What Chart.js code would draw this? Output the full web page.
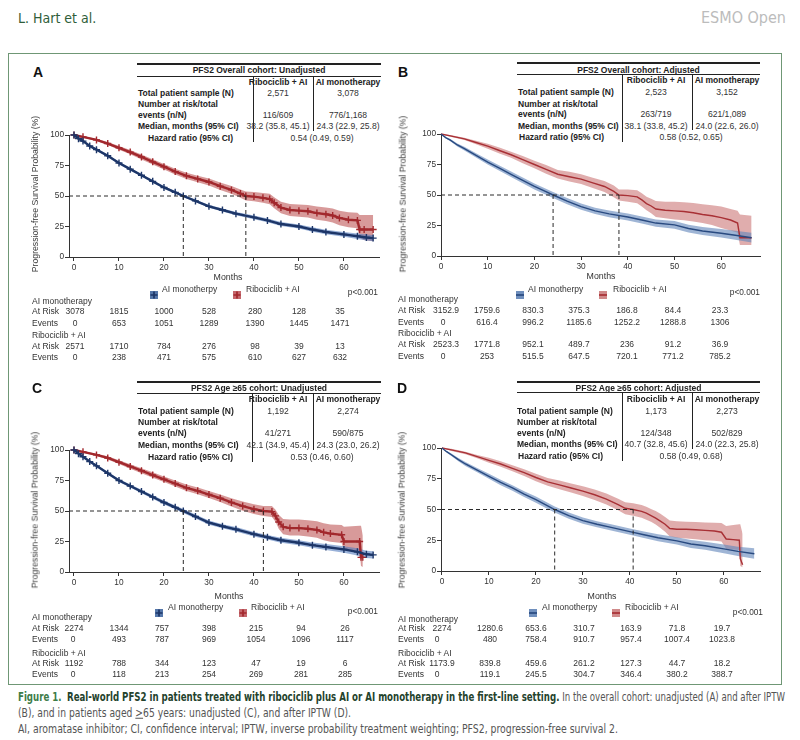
<!DOCTYPE html>
<html><head><meta charset="utf-8">
<script src="https://cdn.jsdelivr.net/npm/chart.js@4.4.1/dist/chart.umd.min.js"></script>
<style>
body{margin:0;background:#fff;width:800px;height:740px;position:relative;overflow:hidden;font-family:"Liberation Sans",Arial,sans-serif;}
.t{position:absolute;white-space:nowrap;line-height:1;}
.ln{position:absolute;background:#222;}
</style></head><body>
<script>
// ---------- DATA ----------
const XTICKS = [0,10,20,30,40,50,60];
const YTICKS = [0,25,50,75,100];
const SERIES_NAMES = ["AI monotherpy", "Ribociclib + AI"];
const TABLE_ROW_LABELS = ["Total patient sample (N)", "Number at risk/total", "events (n/N)", "Median, months (95% CI)", "Hazard ratio (95% CI)"];
const TABLE_COLS = ["Ribociclib + AI", "AI monotherapy"];

// Panel A
const A_TITLE = "PFS2 Overall cohort: Unadjusted";
const A_RIBO_STATS = ["2,571", "116/609", "38.2 (35.8, 45.1)"];
const A_AI_STATS = ["3,078", "776/1,168", "24.3 (22.9, 25.8)"];
const A_HR = "0.54 (0.49, 0.59)";
const A_MEDIANS = [24.3, 38.2];
const A_AI_m  = [0,1,2,3.5,5,7.5,10,12.5,15,17.5,20,22.5,24.3,27,30,33,36,40,43,46,50,53,56,60,63,65,66.5];
const A_AI_s  = [100,97,95,91,88,83,77,72,67,62,57,53,50,46,41.5,38.5,35.5,32.5,30,27,25,22.5,20.5,18.5,17,16,15.5];
const A_AI_lo = [100,96.5,94.3,90.2,87.1,82,76,71,66,61,56,52,49,45,40.3,37.2,34.2,31,28.4,25.4,23.3,20.7,18.6,16.5,14.8,13.5,13];
const A_AI_hi = [100,97.5,95.7,91.8,88.9,84,78,73,68,63,58,54,51,47,42.7,39.8,36.8,34,31.6,28.6,26.7,24.3,22.4,20.5,19.2,18.5,18];
const A_RA_m  = [0,2,5,7.5,10,12.5,15,17.5,20,22.5,25,27.5,30,32.5,35,37,38.2,40,42,43.5,44.5,46,48,50,52,54,56,57.5,59,61,63,63.5,64.5,66.5];
const A_RA_s  = [100,98.5,96,93,89.5,86,82,78,74,70,66.5,64,61.5,58,55,52,50,49.5,48.5,47.5,44.5,40.5,38.5,38,37.5,36,35,34,32,30.5,30,22.5,22.5,22.5];
const A_RA_lo = [100,97.8,95,91.8,88,84.2,80,75.8,71.8,67.6,64,61.3,58.7,55,51.8,48.6,46.4,45.7,44.5,43.2,40,35.8,33.6,33,32.3,30.6,29.5,28.2,26,24.4,23.5,15.5,14,13];
const A_RA_hi = [100,99.2,97,94.2,91,87.8,84,80.2,76.2,72.4,69,66.7,64.3,61,58.2,55.4,53.6,53.3,52.5,51.8,49,45.2,43.4,43,42.7,41.4,40.5,39.8,38,36.6,36.2,34.5,34.5,34.5];

// Panel B
const B_TITLE = "PFS2 Overall cohort: Adjusted";
const B_RIBO_STATS = ["2,523", "263/719", "38.1 (33.8, 45.2)"];
const B_AI_STATS = ["3,152", "621/1,089", "24.0 (22.6, 26.0)"];
const B_HR = "0.58 (0.52, 0.65)";
const B_MEDIANS = [24.0, 38.1];
const B_AI_m  = [0,1,2,3.5,5,7.5,10,12.5,15,17.5,20,22,24,27,30,33,36,40,43,46,50,53,56,60,63,66.5];
const B_AI_s  = [100,97,95,91,88,82.5,77,72,67,62,57,53.5,50,45,40.5,37,34.5,32,29.5,27,25.5,22.5,20.5,18.6,17,15];
const B_AI_lo = [100,96.5,94,89.8,86.5,80.7,75,69.8,64.7,59.6,54.6,51,47.5,42.5,38,34.4,31.8,29.2,26.6,24,22.4,19.3,17.2,15.1,13.3,11];
const B_AI_hi = [100,97.5,96,92.2,89.5,84.3,79,74.2,69.3,64.4,59.4,56,52.5,47.5,43,39.6,37.2,34.8,32.4,30,28.6,25.7,23.8,22.1,20.7,19];
const B_RA_m  = [0,2,5,7.5,10,12.5,15,17.5,20,22.5,25,27.5,30,32.5,35,37,38.1,40,42,43,44,45,46,48,50,52,54,56,58,60,62,63.5,64,66.5];
const B_RA_s  = [100,98.5,96,93,90,86.5,83,79,75,71,67,65,63,60,57,53,50,49.5,48.5,46,43,41,38.5,37.5,37,36.5,35.5,34,33,31.5,29.5,27,15,15];
const B_RA_lo = [100,97.8,95,91.5,88,84,80.5,76,72,67.5,63.5,61,59,55.8,52.5,48.2,45.5,44.5,43.2,40.5,37.5,35,32,31,30,29.3,28.3,27,25.5,23,21,19,9,9];
const B_RA_hi = [100,99.2,97,94.5,92,89,85.5,82,78,74.5,70.5,69,67,64.2,61.5,57.8,54.5,54.5,53.8,51.5,48.5,47,45,44.5,44.5,44,43.5,42.5,41.5,40.5,38.5,37,34,33];

// Panel C
const C_TITLE = "PFS2 Age \u226565 cohort: Unadjusted";
const C_RIBO_STATS = ["1,192", "41/271", "42.1 (34.9, 45.4)"];
const C_AI_STATS = ["2,274", "590/875", "24.3 (23.0, 26.2)"];
const C_HR = "0.53 (0.46, 0.60)";
const C_MEDIANS = [24.3, 42.1];
const C_AI_m  = [0,1,2,3.5,5,7.5,10,12.5,15,17.5,20,22.5,24.3,27,30,33,36,40,43,46,50,53,56,60,63,65,66.5];
const C_AI_s  = [100,97,94.5,90.5,87,81,75,70.5,66,61.5,57,53,50,45.5,40.5,37.5,35,31,28.5,26,24,22,20.5,18.5,16.5,14.5,14];
const C_AI_lo = [100,96.4,93.7,89.6,86,79.9,73.8,69.2,64.6,60,55.4,51.4,48.4,43.8,38.8,35.8,33.2,29.2,26.6,24,21.9,19.8,18.1,15.8,13.5,11.5,11];
const C_AI_hi = [100,97.6,95.3,91.4,88,82.1,76.2,71.8,67.4,63,58.6,54.6,51.6,47.2,42.2,39.2,36.8,32.8,30.4,28,26.1,24.2,22.9,21.2,19.5,17.5,17];
const C_RA_m  = [0,2,5,7.5,10,12.5,15,17.5,20,22.5,25,27.5,30,32.5,35,37.5,40,42.1,44,44.8,45.5,46.5,48,50,52,54,55.5,57,59.5,60,63.5,63.8,64.2];
const C_RA_s  = [100,98.5,96,93.5,90,86.5,83,79.5,76,72.5,69,66.5,63.5,60.5,57,54,51.5,50,49.5,46,41,37,36,36,35.5,34.5,32.5,31.5,30.5,25,25,12,12];
const C_RA_lo = [100,97.8,95,92.2,88.5,84.7,81,77.3,73.7,70,66.3,63.7,60.6,57.4,53.6,50.3,47.5,45.8,45,41.2,35.5,31,30,30,29.2,28,26,24.8,23.8,18,16,5,4];
const C_RA_hi = [100,99.2,97,94.8,91.5,88.3,85,81.7,78.3,75,71.7,69.3,66.4,63.6,60.4,57.7,55.5,54.2,54,51,47,43.5,43,43,42.5,41.5,40,39,38.5,37,38,38,30];

// Panel D
const D_TITLE = "PFS2 Age \u226565 cohort: Adjusted";
const D_RIBO_STATS = ["1,173", "124/348", "40.7 (32.8, 45.6)"];
const D_AI_STATS = ["2,273", "502/829", "24.0 (22.3, 25.8)"];
const D_HR = "0.58 (0.49, 0.68)";
const D_MEDIANS = [24.0, 40.7];
const D_AI_m  = [0,1,2,3.5,5,7.5,10,12.5,15,17.5,20,22,24,27,30,33,36,40,43,46,50,53,56,60,63,66.5];
const D_AI_s  = [100,97,94.5,90.5,87,82,77,72,67.5,62.5,58,54,50,45,41,38,35.5,32,29.5,27,24.5,22,20.5,18,16,14];
const D_AI_lo = [100,96.4,93.5,89.2,85.4,80.2,75,69.8,65.2,60.1,55.5,51.5,47.5,42.5,38.5,35.5,33,29.5,26.8,24.2,21.5,18.8,17.2,14.5,12.2,10];
const D_AI_hi = [100,97.6,95.5,91.8,88.6,83.8,79,74.2,69.8,64.9,60.5,56.5,52.5,47.5,43.5,40.5,38,34.5,32.2,29.8,27.5,25.2,23.8,21.5,19.8,18.5];
const D_RA_m  = [0,2,5,7.5,10,12.5,15,17.5,20,22.5,25,27.5,30,32.5,35,37.5,39,40.7,42.5,43.5,44.5,45.5,46.5,47.5,48.5,50,52,54,56,58,59.5,60.5,62,63.3,63.5,64];
const D_RA_s  = [100,98.5,96,93,90,87,83.5,80,76,72.5,70,67.5,65,62,58.5,54,51,50,48.5,47,45,43,40.5,38,34.5,34,34,33.5,33,32.5,31.5,26,25.5,25,10,5];
const D_RA_lo = [100,97.6,95,91.7,88,84.7,81,77.3,73,69.3,66.5,63.8,61,57.7,54,49.3,46.2,45,43.3,41.7,40,37.8,35,32,28,27,26.5,25.8,25,24.5,24,18,17.5,17,4,3];
const D_RA_hi = [100,99.4,97,94.3,92,89.3,86,82.7,79,75.7,73.5,71.2,69,66.3,63,58.7,55.8,55,53.7,52.3,50.5,48.7,46.5,44,41,40.5,40,39.8,39.5,39.3,39,36.5,37.5,38,38,30];

// Numbers at risk / events (columns at 0,10,...,60 months)
const A_RISK_AI = ["3078","1815","1000","528","280","128","35"];
const A_EVENTS_AI = ["0","653","1051","1289","1390","1445","1471"];
const A_RISK_RA = ["2571","1710","784","276","98","39","13"];
const A_EVENTS_RA = ["0","238","471","575","610","627","632"];
const B_RISK_AI = ["3152.9","1759.6","830.3","375.3","186.8","84.4","23.3"];
const B_EVENTS_AI = ["0","616.4","996.2","1185.6","1252.2","1288.8","1306"];
const B_RISK_RA = ["2523.3","1771.8","952.1","489.7","236","91.2","36.9"];
const B_EVENTS_RA = ["0","253","515.5","647.5","720.1","771.2","785.2"];
const C_RISK_AI = ["2274","1344","757","398","215","94","26"];
const C_EVENTS_AI = ["0","493","787","969","1054","1096","1117"];
const C_RISK_RA = ["1192","788","344","123","47","19","6"];
const C_EVENTS_RA = ["0","118","213","254","269","281","285"];
const D_RISK_AI = ["2274","1280.6","653.6","310.7","163.9","71.8","19.7"];
const D_EVENTS_AI = ["0","480","758.4","910.7","957.4","1007.4","1023.8"];
const D_RISK_RA = ["1173.9","839.8","459.6","261.2","127.3","44.7","18.2"];
const D_EVENTS_RA = ["0","119.1","245.5","304.7","346.4","380.2","388.7"];

// ---------- STYLES ----------
const NAVY = "#1d3668", DRED = "#a2282d";
const STY = {
  cross: {ai:{line:NAVY, band:"rgba(85,125,190,0.6)", icon:"#5577aa"}, ra:{line:DRED, band:"rgba(180,62,62,0.52)", icon:"#c4676c"}},
  plain: {ai:{line:"#294a80", band:"rgba(100,135,188,0.62)", icon:"#6f8fbd"}, ra:{line:"#a83035", band:"rgba(198,105,105,0.55)", icon:"#d08a8a"}}
};

// ---------- HELPERS ----------
function T(x, y, s, o = {}) {
  const d = document.createElement('div');
  d.className = 't';
  d.textContent = s;
  const ax = o.align === 'center' ? '-50%' : o.align === 'right' ? '-100%' : '0';
  d.style.cssText += `left:${x}px;top:${y}px;font-size:${o.size || 8.5}px;font-weight:${o.bold ? 'bold' : 'normal'};color:${o.color || '#222'};transform:translate(${ax},-50%);` + (o.family ? `font-family:${o.family};` : '');
  if (o.rot) d.style.transform = 'translate(-50%,-50%) rotate(-90deg)';
  document.body.appendChild(d);
  return d;
}
function HL(x0, x1, y, w = 1, c = '#222') { const d = document.createElement('div'); d.className = 'ln'; d.style.cssText += `left:${x0}px;top:${y - w / 2}px;width:${x1 - x0}px;height:${w}px;background:${c}`; document.body.appendChild(d); }
function VL(x, y0, y1, w = 1, c = '#222') { const d = document.createElement('div'); d.className = 'ln'; d.style.cssText += `left:${x - w / 2}px;top:${y0}px;width:${w}px;height:${y1 - y0}px;background:${c}`; document.body.appendChild(d); }
function pts(m, v) { return m.map((x, i) => ({x: x, y: v[i]})); }

function makeKM(L, series, medians) {
  const cl = L.left - 49, ct = L.top - 10;
  const w = L.right - cl + 10, h = L.bottom - ct + 28;
  const cv = document.createElement('canvas');
  cv.width = w; cv.height = h;
  cv.style.cssText = `position:absolute;left:${cl}px;top:${ct}px;width:${w}px;height:${h}px`;
  document.body.appendChild(cv);
  const ds = [];
  series.forEach(S => {
    ds.push({data: pts(S.m, S.hi), fill: '+1', backgroundColor: S.band, borderWidth: 0, pointRadius: 0, order: 5, clip: false});
    ds.push({data: pts(S.m, S.lo), fill: false, borderWidth: 0, pointRadius: 0, order: 5, clip: false});
  });
  series.forEach(S => {
    ds.push({data: pts(S.m, S.s), borderColor: S.line, borderWidth: S.lw, fill: false, order: 2, clip: false,
      pointStyle: 'cross', pointRadius: S.cross ? 3.5 : 0, pointBorderColor: S.line, pointBorderWidth: 1.4});
  });
  const dash = {borderColor: '#2a2a2a', borderWidth: 1, borderDash: [4, 3], pointRadius: 0, fill: false, order: 0, clip: false};
  ds.push(Object.assign({}, dash, {data: [{x: L.xmin, y: 50}, {x: Math.max(...medians), y: 50}]}));
  medians.forEach(md => ds.push(Object.assign({}, dash, {data: [{x: md, y: 50}, {x: md, y: 0}]})));
  const tk = {font: {family: 'Liberation Sans', size: 8.3}, color: '#333', padding: 2, maxRotation: 0, autoSkip: false};
  const grid = {drawOnChartArea: false, drawTicks: true, tickLength: 4, color: '#333', lineWidth: 1};
  const border = {display: true, color: '#333', width: 1};
  new Chart(cv, {
    type: 'line',
    data: {datasets: ds},
    options: {
      responsive: false, animation: false, events: [],
      layout: {padding: {left: 0, top: 10, right: 10, bottom: 0}},
      plugins: {legend: {display: false}, tooltip: {enabled: false}},
      elements: {line: {tension: 0}},
      scales: {
        x: {type: 'linear', min: L.xmin, max: L.xmax, grid: grid, border: border, ticks: tk,
            afterBuildTicks: s => { s.ticks = XTICKS.map(v => ({value: v})); }, afterFit: s => { s.height = 28; }},
        y: {type: 'linear', min: 0, max: 100, grid: grid, border: border, ticks: Object.assign({}, tk, {padding: 1}),
            afterBuildTicks: s => { s.ticks = YTICKS.map(v => ({value: v})); }, afterFit: s => { s.width = 49; }}
      }
    }
  });
}

function icon(cx, cy, fillC, lineC, cross) {
  const d = document.createElement('div');
  d.style.cssText = `position:absolute;left:${cx - 4}px;top:${cy - 4}px;width:8px;height:8px;`;
  d.innerHTML = `<svg width="8" height="8"><rect width="8" height="8" fill="${fillC}"/>` +
    (cross ? `<path d="M4 0.5V7.5M0.5 4H7.5" stroke="${lineC}" stroke-width="1.7"/>` : `<path d="M0 4H8" stroke="${lineC}" stroke-width="1.7"/>`) + `</svg>`;
  document.body.appendChild(d);
}

function statTable(P, title, ribo, ai, hr) {
  HL(P.x0, P.x1, P.top, 1.3);
  T((P.x0 + P.x1) / 2, P.titleY, title, {bold: true, align: 'center'});
  HL(P.x0, P.x1, P.line2, 1);
  T(P.cols[0], P.headY, TABLE_COLS[0], {bold: true, align: 'center'});
  T(P.cols[1], P.headY, TABLE_COLS[1], {bold: true, align: 'center'});
  VL(P.divs[0], P.line2, P.divB[0], 1);
  VL(P.divs[1], P.line2, P.divB[1], 1);
  TABLE_ROW_LABELS.forEach((lab, i) => T(i === 4 ? P.hrX : P.labX, P.rows[i], lab, {bold: true}));
  const valRows = [0, 2, 3];
  valRows.forEach((r, k) => {
    T(P.cols[0], P.rows[r], ribo[k], {align: 'center', size: 8.6, color: '#333'});
    T(P.cols[1], P.rows[r], ai[k], {align: 'center', size: 8.6, color: '#333'});
  });
  T(P.hrC, P.rows[4], hr, {align: 'center', size: 8.6, color: '#333'});
}

function riskTable(R, riskAI, evAI, riskRA, evRA) {
  const c = '#333';
  T(R.labX, R.rows[0], "AI monotherapy", {color: c});
  T(R.labX, R.rows[1], "At Risk", {color: c});
  T(R.labX, R.rows[2], "Events", {color: c});
  T(R.labX, R.rows[3], "Ribociclib + AI", {color: c});
  T(R.labX, R.rows[4], "At Risk", {color: c});
  T(R.labX, R.rows[5], "Events", {color: c});
  const rows = [[riskAI, 1, R.c0r], [evAI, 2, R.c0e], [riskRA, 4, R.c0r], [evRA, 5, R.c0e]];
  rows.forEach(([arr, ri, c0]) => arr.forEach((v, j) => T(j === 0 ? c0 : R.cols[j], R.rows[ri], v, {align: 'center', color: c})));
}

function panel(cfg) {
  T(cfg.letter[0], cfg.letter[1], cfg.letter[2], {size: 14, bold: true, align: 'center', color: '#111'});
  statTable(cfg.tab, cfg.title, cfg.ribo, cfg.ai, cfg.hr);
  const st = cfg.cross ? STY.cross : STY.plain;
  makeKM(cfg.L, [
    {m: cfg.aiM, s: cfg.aiS, lo: cfg.aiLo, hi: cfg.aiHi, line: st.ai.line, band: st.ai.band, lw: cfg.cross ? 2.4 : 1.4, cross: cfg.cross},
    {m: cfg.raM, s: cfg.raS, lo: cfg.raLo, hi: cfg.raHi, line: st.ra.line, band: st.ra.band, lw: cfg.cross ? 2.4 : 1.4, cross: cfg.cross}
  ], cfg.medians);
  T(cfg.ytitle[0], cfg.ytitle[1], "Progression-free Survival Probability (%)", {rot: true, color: '#3a3a3a', size: 8.7});
  T(cfg.months[0], cfg.months[1], "Months", {align: 'center', color: '#333', size: 8.8});
  icon(cfg.leg[0], cfg.leg[4], st.ai.icon, st.ai.line, cfg.cross);
  T(cfg.leg[1], cfg.leg[4], SERIES_NAMES[0], {color: '#333'});
  icon(cfg.leg[2], cfg.leg[4], st.ra.icon, st.ra.line, cfg.cross);
  T(cfg.leg[3], cfg.leg[4], SERIES_NAMES[1], {color: '#333'});
  T(cfg.p[0], cfg.p[1], "p<0.001", {align: 'right', color: '#333', size: 8.3});
  riskTable(cfg.risk, cfg.rAI, cfg.eAI, cfg.rRA, cfg.eRA);
}

// ---------- PAGE ----------
const NARROW = '"Liberation Sans Narrow","DejaVu Sans Condensed","Liberation Sans",sans-serif';
T(18, 18, "L. Hart et al.", {size: 14, color: '#2f5e3a', family: NARROW});
T(786, 18, "ESMO Open", {size: 16, color: '#bcbcbc', align: 'right', family: NARROW});
const box = document.createElement('div');
box.style.cssText = 'position:absolute;left:8px;top:53px;width:772px;height:630px;border:1.5px solid #6f9775;';
document.body.appendChild(box);

panel({letter: [38, 72, "A"], title: A_TITLE, ribo: A_RIBO_STATS, ai: A_AI_STATS, hr: A_HR, cross: true, medians: A_MEDIANS,
  tab: {x0: 137, x1: 381, top: 64, titleY: 70, line2: 76, headY: 82, rows: [93, 104, 115, 126, 138], labX: 138, hrX: 148, cols: [278, 348], divs: [253, 313], divB: [142, 131], hrC: 322},
  L: {left: 69, right: 379, top: 135, bottom: 257, xmin: -1.11, xmax: 67.8},
  aiM: A_AI_m, aiS: A_AI_s, aiLo: A_AI_lo, aiHi: A_AI_hi, raM: A_RA_m, raS: A_RA_s, raLo: A_RA_lo, raHi: A_RA_hi,
  ytitle: [35, 194], months: [228, 277], leg: [153.5, 162, 236.5, 246, 289], p: [378, 292],
  risk: {labX: 32, rows: [301, 311, 323, 335, 346, 357], c0r: 75, c0e: 75, cols: [75, 119, 164, 209, 255, 299, 340]},
  rAI: A_RISK_AI, eAI: A_EVENTS_AI, rRA: A_RISK_RA, eRA: A_EVENTS_RA});

panel({letter: [403, 72, "B"], title: B_TITLE, ribo: B_RIBO_STATS, ai: B_AI_STATS, hr: B_HR, cross: false, medians: B_MEDIANS,
  tab: {x0: 517, x1: 760, top: 63, titleY: 69.5, line2: 74.5, headY: 80, rows: [92, 104, 114, 126, 137], labX: 518, hrX: 519, cols: [656, 727], divs: [622, 692], divB: [142, 130], hrC: 691},
  L: {left: 441, right: 760, top: 134, bottom: 256, xmin: 0, xmax: 68.3},
  aiM: B_AI_m, aiS: B_AI_s, aiLo: B_AI_lo, aiHi: B_AI_hi, raM: B_RA_m, raS: B_RA_s, raLo: B_RA_lo, raHi: B_RA_hi,
  ytitle: [403, 194], months: [601, 276], leg: [520, 528, 602.5, 613, 289], p: [760, 292],
  risk: {labX: 398, rows: [299, 310, 322, 333, 344, 356], c0r: 446, c0e: 443, cols: [446, 487, 533, 579, 627, 673, 720]},
  rAI: B_RISK_AI, eAI: B_EVENTS_AI, rRA: B_RISK_RA, eRA: B_EVENTS_RA});

panel({letter: [37, 388, "C"], title: C_TITLE, ribo: C_RIBO_STATS, ai: C_AI_STATS, hr: C_HR, cross: true, medians: C_MEDIANS,
  tab: {x0: 137, x1: 381, top: 382, titleY: 388, line2: 393, headY: 399, rows: [411, 422, 433, 445, 457], labX: 138, hrX: 148, cols: [278, 348], divs: [252, 313], divB: [462, 450], hrC: 322},
  L: {left: 69, right: 379, top: 450, bottom: 572, xmin: -1.11, xmax: 67.8},
  aiM: C_AI_m, aiS: C_AI_s, aiLo: C_AI_lo, aiHi: C_AI_hi, raM: C_RA_m, raS: C_RA_s, raLo: C_RA_lo, raHi: C_RA_hi,
  ytitle: [35, 510], months: [229, 596], leg: [159, 168, 242.5, 251, 607], p: [378, 611],
  risk: {labX: 32, rows: [617, 628, 639, 653, 663, 674], c0r: 74, c0e: 73, cols: [74, 119, 162, 209, 256, 301, 345]},
  rAI: C_RISK_AI, eAI: C_EVENTS_AI, rRA: C_RISK_RA, eRA: C_EVENTS_RA});

panel({letter: [402, 388, "D"], title: D_TITLE, ribo: D_RIBO_STATS, ai: D_AI_STATS, hr: D_HR, cross: false, medians: D_MEDIANS,
  tab: {x0: 517, x1: 760, top: 382, titleY: 388, line2: 392.5, headY: 399, rows: [411, 422, 433, 444, 456], labX: 517, hrX: 518, cols: [656, 727], divs: [622, 692], divB: [461, 449], hrC: 691},
  L: {left: 441, right: 760, top: 448, bottom: 571, xmin: -0.2, xmax: 67.7},
  aiM: D_AI_m, aiS: D_AI_s, aiLo: D_AI_lo, aiHi: D_AI_hi, raM: D_RA_m, raS: D_RA_s, raLo: D_RA_lo, raHi: D_RA_hi,
  ytitle: [402, 510], months: [602, 596], leg: [533, 542, 616, 625, 607], p: [763, 612],
  risk: {labX: 398, rows: [619, 628, 639, 653, 663, 674], c0r: 442, c0e: 437, cols: [442, 490, 536, 584, 631, 677, 722]},
  rAI: D_RISK_AI, eAI: D_EVENTS_AI, rRA: D_RISK_RA, eRA: D_EVENTS_RA});

// ---------- CAPTION ----------
function capLine(y, html, targetW) {
  const d = document.createElement('div');
  d.className = 't';
  d.style.cssText += `left:18px;top:${y}px;font-size:12.5px;color:#555;font-family:${NARROW};transform-origin:0 50%;`;
  d.innerHTML = html;
  document.body.appendChild(d);
  const w = d.getBoundingClientRect().width;
  d.style.transform = `translateY(-50%) scaleX(${targetW / w})`;
}
capLine(697, '<b style="color:#3d7c48">Figure 1.</b>&nbsp; <b style="color:#24422c">Real-world PFS2 in patients treated with ribociclib plus AI or AI monotherapy in the first-line setting.</b> In the overall cohort: unadjusted (A) and after IPTW', 767);
capLine(713, '(B), and in patients aged <u>&gt;</u>65 years: unadjusted (C), and after IPTW (D).', 333);
capLine(729, 'AI, aromatase inhibitor; CI, confidence interval; IPTW, inverse probability treatment weighting; PFS2, progression-free survival 2.', 600);
</script>
</body></html>
